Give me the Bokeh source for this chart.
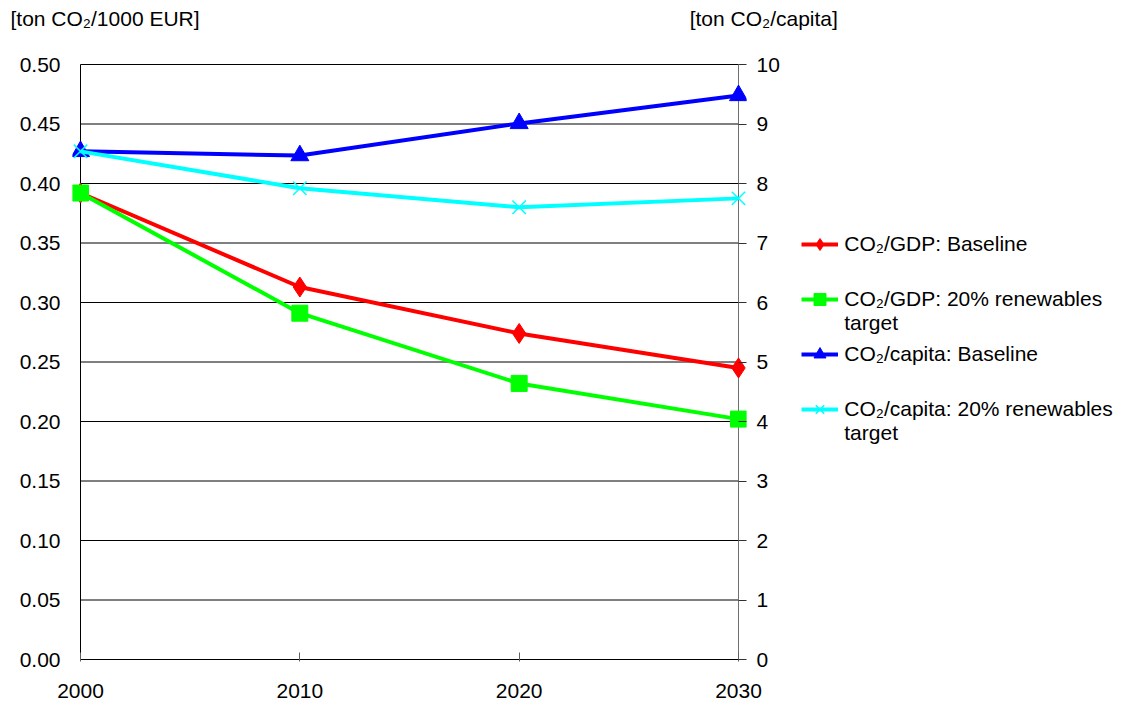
from bokeh.plotting import figure
from bokeh.models import (Range1d, LinearAxis, FixedTicker, NumeralTickFormatter,
                          Legend, LegendItem, Title)
from bokeh.embed import file_html
from bokeh.resources import INLINE

years = [2000, 2010, 2020, 2030]
gdp_baseline = [0.392, 0.313, 0.274, 0.245]
gdp_renewables = [0.392, 0.291, 0.232, 0.202]
cap_baseline = [8.54, 8.47, 9.01, 9.48]
cap_renewables = [8.54, 7.92, 7.60, 7.75]

left_ticks = [0.0, 0.05, 0.10, 0.15, 0.20, 0.25, 0.30, 0.35, 0.40, 0.45, 0.50]
right_ticks = [0, 1, 2, 3, 4, 5, 6, 7, 8, 9, 10]
x_ticks = [2000, 2010, 2020, 2030]

series_labels = ["CO\u2082/GDP: Baseline", "\nCO\u2082/GDP: 20% renewables\ntarget",
                 "CO\u2082/capita: Baseline", "\nCO\u2082/capita: 20% renewables\ntarget"]
left_title = "[ton CO\u2082/1000 EUR]"
right_title = "[ton CO\u2082/capita]"

FONT = "Liberation Sans"
FS = "21px"

PX_X0, PX_X1 = 80, 738          # page x of 2000 / 2030
PX_Y0, PX_Y1 = 64, 659          # page y of 0.5 / 0
PADX, PADY = 8, 2
x_per_px = (x_ticks[-1] - x_ticks[0]) / (PX_X1 - PX_X0)
y_per_px = (left_ticks[-1] - left_ticks[0]) / (PX_Y1 - PX_Y0)
r_per_px = (right_ticks[-1] - right_ticks[0]) / (PX_Y1 - PX_Y0)

p = figure(frame_width=(PX_X1 - PX_X0) + 2 * PADX,
           frame_height=(PX_Y1 - PX_Y0) + 2 * PADY,
           x_range=Range1d(x_ticks[0] - PADX * x_per_px, x_ticks[-1] + PADX * x_per_px),
           y_range=Range1d(left_ticks[0] - PADY * y_per_px, left_ticks[-1] + PADY * y_per_px),
           output_backend="svg", toolbar_location=None,
           min_border_left=PX_X0 - PADX, min_border_right=0,
           min_border_top=PX_Y0 - PADY, min_border_bottom=40)
p.title_location = None
p.extra_y_ranges = {"cap": Range1d(right_ticks[0] - PADY * r_per_px,
                                   right_ticks[-1] + PADY * r_per_px)}
p.outline_line_color = None
p.background_fill_color = "white"
p.border_fill_color = "white"
p.xgrid.visible = False
p.ygrid.visible = False

# left axis
ya = p.yaxis[0]
ya.ticker = FixedTicker(ticks=left_ticks)
ya.formatter = NumeralTickFormatter(format="0.00")
ya.major_tick_out = 0
ya.major_tick_in = 0
ya.minor_tick_out = 0
ya.minor_tick_in = 0
ya.axis_line_color = None
ya.major_label_standoff = 12
ya.major_label_text_font = FONT
ya.major_label_text_font_size = FS
ya.major_label_text_color = "black"

# bottom axis
xa = p.xaxis[0]
xa.ticker = FixedTicker(ticks=x_ticks)
xa.major_tick_out = 0
xa.major_tick_in = PADY + 7
xa.minor_tick_out = 0
xa.minor_tick_in = 0
xa.axis_line_color = None
xa.major_tick_line_color = "#606060"
xa.major_label_standoff = 22
xa.major_label_text_font = FONT
xa.major_label_text_font_size = FS
xa.major_label_text_color = "black"

# right axis
ra = LinearAxis(y_range_name="cap", ticker=FixedTicker(ticks=right_ticks))
ra.major_tick_out = 0
ra.major_tick_in = PADX
ra.minor_tick_out = 0
ra.minor_tick_in = 0
ra.axis_line_color = None
ra.major_tick_line_color = "#303030"
ra.major_label_standoff = 10
ra.major_label_text_font = FONT
ra.major_label_text_font_size = FS
ra.major_label_text_color = "black"
p.add_layout(ra, "right")

# gridlines and axis lines, within 2000..2030
n = len(left_ticks)
p.segment(x0=[x_ticks[0]] * n, x1=[x_ticks[-1]] * n, y0=left_ticks, y1=left_ticks,
          line_color="black", line_width=1)
p.segment(x0=[x_ticks[0]], x1=[x_ticks[0]], y0=[left_ticks[0]], y1=[left_ticks[-1]],
          line_color="black", line_width=1)
p.segment(x0=[x_ticks[-1]], x1=[x_ticks[-1]], y0=[left_ticks[0]], y1=[left_ticks[-1]],
          line_color="#707070", line_width=1)

# series
r1l = p.line(years, gdp_baseline, line_color="#FF0000", line_width=4)
r1m = p.scatter(years, gdp_baseline, marker="diamond", size=20,
                fill_color="#FF0000", line_color="#FF0000")
r2l = p.line(years, gdp_renewables, line_color="#00FF00", line_width=4)
r2m = p.scatter(years, gdp_renewables, marker="square", size=16,
                fill_color="#00FF00", line_color="#00FF00")
r3l = p.line(years, cap_baseline, line_color="#0000FF", line_width=4, y_range_name="cap")
r3m = p.scatter(years, cap_baseline, marker="triangle", size=18,
                fill_color="#0000FF", line_color="#0000FF", y_range_name="cap")
r4l = p.line(years, cap_renewables, line_color="#00FFFF", line_width=4, y_range_name="cap")
r4m = p.scatter(years, cap_renewables, marker="x", size=19,
                line_color="#00FFFF", line_width=1.5, y_range_name="cap")

legend = Legend(items=[
    LegendItem(label=series_labels[0], renderers=[r1l, r1m]),
    LegendItem(label=series_labels[1], renderers=[r2l, r2m]),
    LegendItem(label=series_labels[2], renderers=[r3l, r3m]),
    LegendItem(label=series_labels[3], renderers=[r4l, r4m]),
], location=(-212, 216))
legend.border_line_color = None
legend.background_fill_alpha = 0
legend.padding = 0
legend.margin = 0
legend.spacing = 4
legend.glyph_width = 37
legend.glyph_height = 30
legend.label_height = 30
legend.label_standoff = 6
legend.label_text_font = FONT
legend.label_text_font_size = FS
legend.label_text_color = "black"
p.add_layout(legend, "right")

# spacer nearest the frame, then both axis titles on one line
spacer = Title(text="\u00a0", standoff=8, text_font=FONT, text_font_size=FS)
p.add_layout(spacer, "above")
t = Title(text=left_title + "\u00a0" * 84 + right_title, align="left",
          offset=10 - (PX_X0 - PADX), standoff=0, text_font=FONT, text_font_size=FS,
          text_font_style="normal", text_color="black")
p.add_layout(t, "above")

open("out.html", "w").write(file_html(p, INLINE))
